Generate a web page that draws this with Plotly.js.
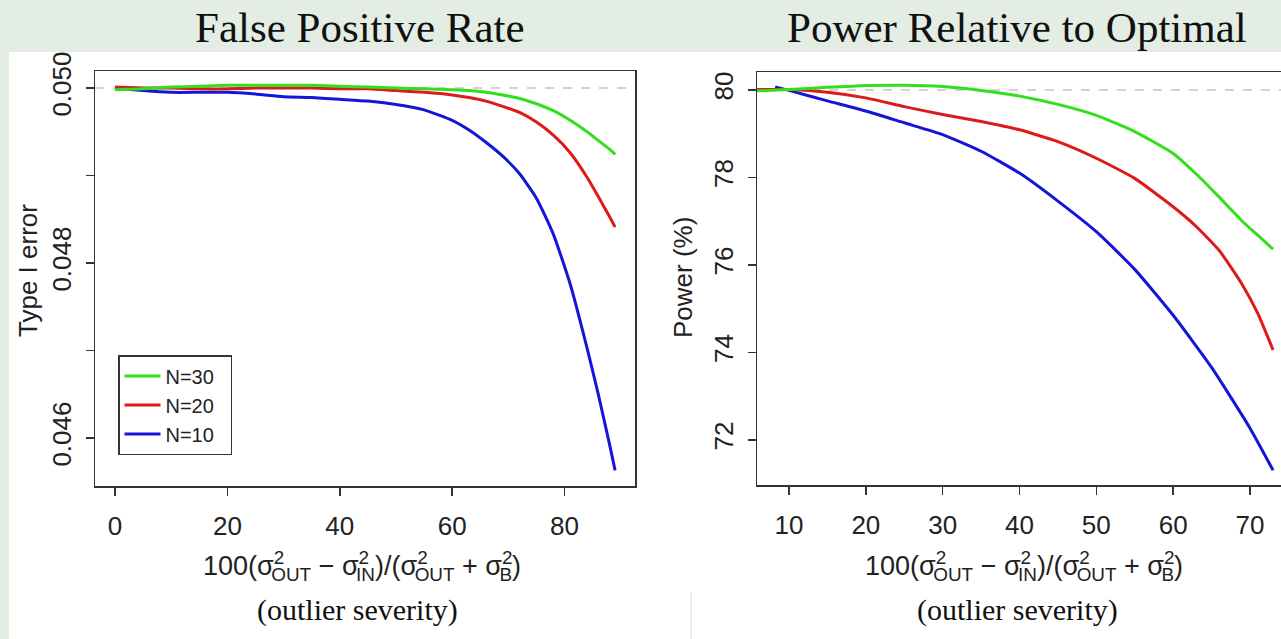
<!DOCTYPE html>
<html>
<head>
<meta charset="utf-8">
<script src="https://cdn.plot.ly/plotly-3.0.1.min.js"></script>
<style>
html,body{margin:0;padding:0;overflow:hidden;background:#e3ede4;}
#c{width:1310px;height:639px;}
</style>
</head>
<body>
<div id="c"></div>
<script>
// ---- data: false positive rate panel ----
const fprX = [0,5,10,15,20,25,30,35,40,45,50,55,60,63,66,69,72,75,78,81,84,86,88,89];
const fprN30 = [0.04998,0.04999,0.05001,0.05002,0.05003,0.05003,0.05003,0.05003,0.05002,0.05001,0.05000,0.04999,0.04998,0.04997,0.04995,0.04992,0.04988,0.04982,0.04974,0.04963,0.04950,0.04940,0.04930,0.04924];
const fprN20 = [0.05001,0.05000,0.05000,0.04999,0.04999,0.05000,0.05000,0.05000,0.04999,0.04999,0.04997,0.04995,0.04992,0.04989,0.04985,0.04979,0.04972,0.04961,0.04946,0.04926,0.04898,0.04876,0.04853,0.04841];
const fprN10 = [0.05000,0.04997,0.04995,0.04995,0.04995,0.04993,0.04990,0.04989,0.04987,0.04985,0.04981,0.04975,0.04963,0.04952,0.04938,0.04922,0.04902,0.04874,0.04833,0.04776,0.04703,0.04650,0.04593,0.04563];
const fprRef = 0.05;
const fprXTicks = [0,20,40,60,80];
const fprYTicks = [0.046,0.047,0.048,0.049,0.050];
const fprYLabels = ['0.046','','0.048','','0.050'];

// ---- data: power panel ----
const powX = [5.8,10,15,20,25,30,35,40,45,50,55,60,63,66,69,71,73];
const powN30 = [79.98,80.01,80.06,80.10,80.11,80.08,79.99,79.86,79.67,79.42,79.05,78.55,78.08,77.55,77.00,76.68,76.36];
const powN20 = [80.01,80.01,79.95,79.82,79.62,79.44,79.28,79.09,78.82,78.44,77.98,77.33,76.88,76.33,75.55,74.90,74.06];
const powX10 = [8.2,10,15,20,25,30,35,40,45,50,55,60,65,70,73];
const powN10 = [80.07,79.99,79.75,79.52,79.25,78.98,78.60,78.10,77.46,76.76,75.90,74.85,73.66,72.27,71.31];
const powRef = 80;
const powXTicks = [10,20,30,40,50,60,70];
const powYTicks = [72,74,76,78,80];

const seriesNames = ['N=10','N=20','N=30'];
const seriesColors = ['#1515d8','#dd1a1a','#2fe01a'];

// ---- layout helpers ----
const W = 1310, H = 639;
const px = x => x / W;
const py = y => 1 - y / H;

const tickFont = {family:'Liberation Sans, Arial, sans-serif', size:26, color:'#222'};
const axBase = {
  showline:true, linecolor:'#333', linewidth:1.5, mirror:true,
  ticks:'outside', ticklen:8, tickwidth:1.5, tickcolor:'#333',
  showgrid:false, zeroline:false, tickfont:tickFont, fixedrange:true
};

const fprSets = [fprN10, fprN20, fprN30];
const powSets = [powN10, powN20, powN30];
const powXs = [powX10, powX, powX];
const legendNames = ['N=10\u00a0\u00a0', 'N=20\u00a0\u00a0', 'N=30\u00a0\u00a0'];

const traces = [];
for (let i = 0; i < 3; i++) {
  traces.push({
    x: fprX, y: fprSets[i], type:'scatter', mode:'lines', name: legendNames[i],
    line:{color:seriesColors[i], width:3, shape:'spline', smoothing:0.5},
    xaxis:'x', yaxis:'y', showlegend:true
  });
}
for (let i = 0; i < 3; i++) {
  traces.push({
    x: powXs[i], y: powSets[i], type:'scatter', mode:'lines', name: seriesNames[i],
    line:{color:seriesColors[i], width:3, shape:'spline', smoothing:0.5},
    xaxis:'x2', yaxis:'y2', showlegend:false
  });
}

const sq = '<sup><span style="letter-spacing:-13px">2</span></sup>';
const xLabel = '100(σ' + sq + '<sub>OUT</sub> − σ' + sq + '<sub>IN</sub>)/(σ' + sq + '<sub>OUT</sub> + σ' + sq + '<sub>B</sub>)';
const sansFont = {family:'Liberation Sans, Arial, sans-serif', size:26, color:'#222'};
const labelFont = {family:'Liberation Sans, Arial, sans-serif', size:27, color:'#222'};
const serifTitle = {family:'Liberation Serif, Times New Roman, serif', size:43, color:'#111'};
const serifSub = {family:'Liberation Serif, Times New Roman, serif', size:30, color:'#111'};

const layout = {
  width: W, height: H,
  margin:{l:0,r:0,t:0,b:0,pad:0},
  paper_bgcolor:'#e3ede4',
  plot_bgcolor:'#ffffff',
  showlegend:true,
  legend:{
    x:px(118), y:py(355), xanchor:'left', yanchor:'top',
    bgcolor:'#ffffff', bordercolor:'#333', borderwidth:1.5,
    font:{family:'Liberation Sans, Arial, sans-serif', size:20, color:'#222'},
    traceorder:'reversed', itemwidth:36
  },
  xaxis: Object.assign({}, axBase, {
    domain:[px(95), px(635)], range:[-3.56, 92.54],
    tickvals:fprXTicks, ticktext:fprXTicks.map(String), anchor:'y', ticklabelstandoff:8
  }),
  yaxis: Object.assign({}, axBase, {
    domain:[py(486), py(71)], range:[0.045451, 0.050194],
    tickvals:fprYTicks, ticktext:fprYLabels, tickangle:-90, anchor:'x', ticklabelstandoff:4
  }),
  xaxis2: Object.assign({}, axBase, {
    domain:[px(757), px(1302)], range:[5.835, 76.77],
    tickvals:powXTicks, ticktext:powXTicks.map(String), anchor:'y2', ticklabelstandoff:8
  }),
  yaxis2: Object.assign({}, axBase, {
    domain:[py(485), py(72)], range:[70.971, 80.411],
    tickvals:powYTicks, ticktext:powYTicks.map(String), tickangle:-90, anchor:'x2', ticklabelstandoff:4
  }),
  shapes:[
    {type:'rect', xref:'paper', yref:'paper', x0:px(9), x1:1, y0:0, y1:py(52),
     fillcolor:'#ffffff', line:{width:0}, layer:'below'},
    {type:'line', xref:'paper', yref:'paper', x0:px(691), x1:px(691), y0:0, y1:py(592),
     line:{color:'#dddddd', width:1}, layer:'below'},
    {type:'line', xref:'x domain', yref:'y', x0:0, x1:1, y0:fprRef, y1:fprRef,
     line:{color:'#c4c4c4', width:1.5, dash:'dash'}, layer:'below'},
    {type:'line', xref:'x2 domain', yref:'y2', x0:0, x1:1, y0:powRef, y1:powRef,
     line:{color:'#c4c4c4', width:1.5, dash:'dash'}, layer:'below'}
  ],
  annotations:[
    {text:'False Positive Rate', xref:'paper', yref:'paper', x:px(360), y:py(28),
     xanchor:'center', yanchor:'middle', showarrow:false, font:serifTitle},
    {text:'Power Relative to Optimal', xref:'paper', yref:'paper', x:px(1017), y:py(28),
     xanchor:'center', yanchor:'middle', showarrow:false, font:serifTitle},
    {text:'Type I error', xref:'paper', yref:'paper', x:px(28), y:py(271),
     xanchor:'center', yanchor:'middle', textangle:-90, showarrow:false, font:sansFont},
    {text:'Power (%)', xref:'paper', yref:'paper', x:px(683), y:py(278),
     xanchor:'center', yanchor:'middle', textangle:-90, showarrow:false, font:sansFont},
    {text:xLabel, xref:'paper', yref:'paper', x:px(362), y:py(568),
     xanchor:'center', yanchor:'middle', showarrow:false, font:labelFont},
    {text:xLabel, xref:'paper', yref:'paper', x:px(1024), y:py(568),
     xanchor:'center', yanchor:'middle', showarrow:false, font:labelFont},
    {text:'(outlier severity)', xref:'paper', yref:'paper', x:px(357), y:py(610),
     xanchor:'center', yanchor:'middle', showarrow:false, font:serifSub},
    {text:'(outlier severity)', xref:'paper', yref:'paper', x:px(1017), y:py(610),
     xanchor:'center', yanchor:'middle', showarrow:false, font:serifSub}
  ]
};

Plotly.newPlot('c', traces, layout, {displayModeBar:false, staticPlot:true});
</script>
</body>
</html>
